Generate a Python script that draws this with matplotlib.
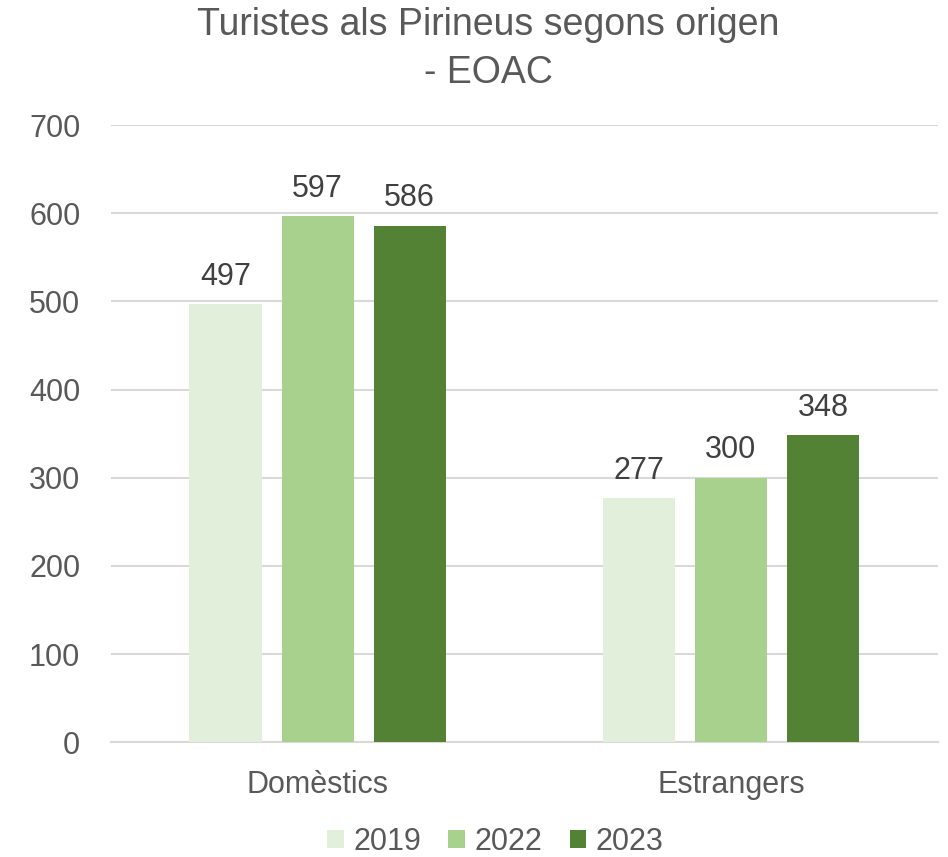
import matplotlib.pyplot as plt
import numpy as np

plt.rcParams['font.family'] = ['Liberation Sans', 'DejaVu Sans']

categories = ['Domèstics', 'Estrangers']
years = ['2019', '2022', '2023']
values = {
    '2019': [497, 277],
    '2022': [597, 300],
    '2023': [586, 348],
}
colors = ['#e2efda', '#a9d18e', '#548235']
text_color = '#595959'

fig = plt.figure(figsize=(9.48, 8.57), dpi=100)
ax = fig.add_axes([0.117, 0.134, 0.872, 0.720])

x = np.arange(len(categories))
width = 72 / 413
step = 92 / 413
for i, (yr, col) in enumerate(zip(years, colors)):
    pos = x + (i - 1) * step
    bars = ax.bar(pos, values[yr], width=width, color=col, label=yr, zorder=3)
    for b, v in zip(bars, values[yr]):
        ax.text(b.get_x() + b.get_width() / 2, v + 14, str(v), ha='center', va='bottom',
                fontsize=22, color='#404040')

ax.set_xlim(-0.5, 1.5)
ax.set_ylim(0, 700)
ax.set_yticks(range(0, 701, 100))
ax.grid(axis='y', color='#d9d9d9', linewidth=1.5, zorder=0)
for s in ['top', 'right', 'left']:
    ax.spines[s].set_visible(False)
ax.spines['bottom'].set_color('#d9d9d9')
ax.spines['bottom'].set_linewidth(1.5)
ax.set_xticks(x)
ax.set_xticklabels(categories)
ax.tick_params(axis='both', length=0, labelsize=22, labelcolor=text_color)
ax.tick_params(axis='y', pad=22)
ax.tick_params(axis='x', pad=20)

fig.suptitle('Turistes als Pirineus segons origen\n- EOAC', x=0.515, y=0.992,
             fontsize=27, color=text_color, va='top', linespacing=1.45)

ax.legend(loc='lower center', bbox_to_anchor=(0.465, -0.22), ncol=3, frameon=False,
          fontsize=22, labelcolor=text_color, handlelength=0.55, handleheight=0.55,
          handletextpad=0.3, columnspacing=0.9, borderpad=0.2)

fig.savefig('out.png', dpi=100)
